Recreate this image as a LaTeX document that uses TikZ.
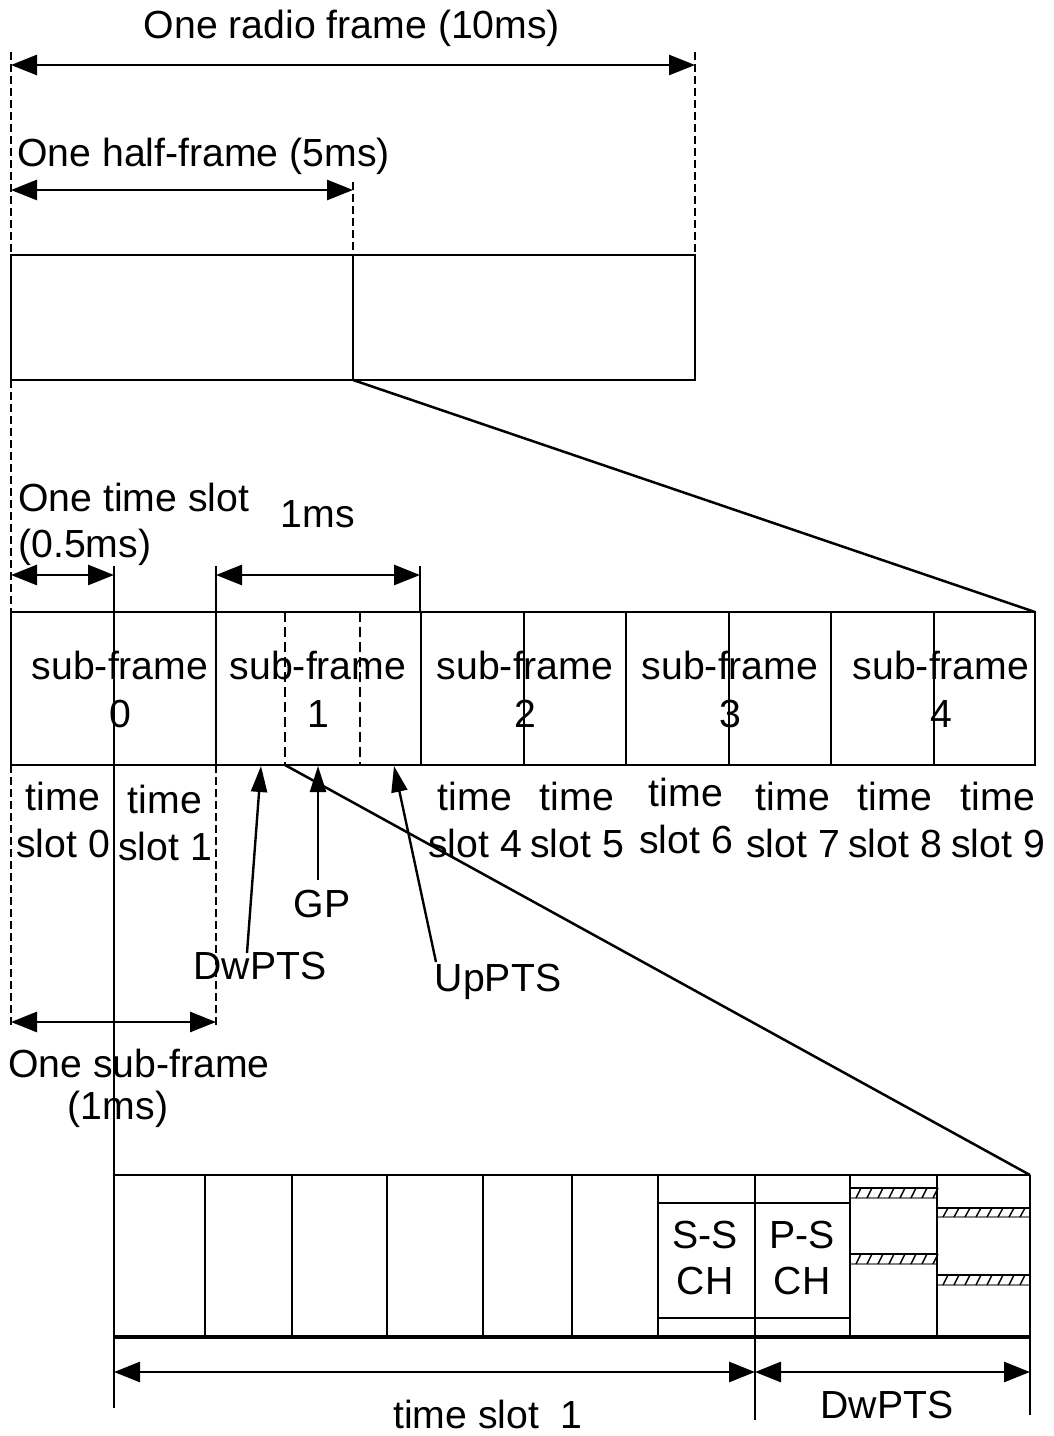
\documentclass[tikz,border=0pt]{standalone}
\usepackage{fontspec}
\setmainfont{Liberation Sans}
\usetikzlibrary{arrows.meta}
\begin{document}
\begin{tikzpicture}[x=0.5pt,y=-0.5pt,
  ln/.style={line width=1.25pt},
  boxln/.style={line width=1.4pt},
  dimarrow/.style={line width=1.4pt,{Triangle[length=13pt,width=10pt]}-{Triangle[length=13pt,width=10pt]}},
  ptr/.style={line width=1.2pt,-{Triangle[length=13pt,width=8pt]}},
  guide/.style={line width=0.7pt,dash pattern=on 4pt off 2pt},
  sfdash/.style={line width=1pt,dash pattern=on 5pt off 2.5pt},
  lbl/.style={font=\fontsize{19.6}{24}\selectfont, inner sep=0pt, anchor=base}]
\useasboundingbox (0,0) rectangle (1054,1436);

% ---- top: radio frame ----
\coordinate (rfL) at (11,65); \coordinate (rfR) at (695,65);
\draw[dimarrow] (rfL) -- (rfR);
\node[lbl] (rf) at (352,38) {One radio frame (10ms)};
\draw[guide] (11,52) -- (11,255);
\draw[guide] (695,52) -- (695,255);
\coordinate (hfL) at (11,190); \coordinate (hfR) at (353,190);
\draw[dimarrow] (hfL) -- (hfR);
\node[lbl,anchor=base west] (hf) at (17,166) {One half-frame (5ms)};
\draw[guide] (353,182) -- (353,255);
\draw[boxln] (11,255) rectangle (695,380);
\draw[ln] (353,255) -- (353,380);
\coordinate (z1a) at (353,380); \coordinate (z1b) at (1035,612);
\draw[ln] (z1a) -- (z1b);
\draw[guide] (11,380) -- (11,612);

% ---- sub-frame row ----
\node[lbl,anchor=base west] (ts1) at (18,511) {One time slot};
\node[lbl,anchor=base west] (ts2) at (18,557) {(0.5ms)};
\node[lbl] (onems) at (318,527) {1ms};
\coordinate (tsL) at (11,575); \coordinate (tsR) at (114,575);
\draw[dimarrow] (tsL) -- (tsR);
\coordinate (msL) at (216,575); \coordinate (msR) at (420,575);
\draw[dimarrow] (msL) -- (msR);
\draw[ln] (216,566) -- (216,612);
\draw[ln] (420,566) -- (420,612);
\draw[ln] (114,566) -- (114,1408);

\draw[boxln] (11,612) rectangle (1035,765);
\foreach \x in {216,421,626,831,524,729,934} \draw[ln] (\x,612) -- (\x,765);
\draw[sfdash] (285,612) -- (285,765);
\draw[sfdash] (360,612) -- (360,765);

\foreach \x/\n/\k in {120/0/a,318/1/b,525/2/c,730/3/d,941/4/e} {
  \node[lbl] (sf\k) at (\x,679) {sub-frame};
  \node[lbl] (sn\k) at (\x,727) {\n};
}

\foreach \x/\ya/\n/\k in {63/810/0/a,165/813/1/b,475/810/4/c,577/810/5/d,686/806/6/e,793/810/7/f,895/810/8/g,998/810/9/h} {
  \node[lbl] (tt\k) at (\x,\ya) {time};
  \node[lbl] (tn\k) at (\x,\ya+47) {slot \n};
}

% ---- DwPTS / GP / UpPTS pointers ----
\node[lbl] (gp) at (322,917) {GP};
\node[lbl] (dw) at (260,979) {DwPTS};
\node[lbl] (up) at (498,991) {UpPTS};
\coordinate (dwT) at (261,766); \coordinate (dwS) at (247,953);
\coordinate (gpT) at (318,766); \coordinate (gpS) at (318,880);
\coordinate (upT) at (394,766); \coordinate (upS) at (436,962);
\draw[ptr] (dwS) -- (dwT);
\draw[ptr] (gpS) -- (gpT);
\draw[ptr] (upS) -- (upT);

\draw[guide] (11,765) -- (11,1028);
\draw[guide] (216,765) -- (216,1028);
\coordinate (osL) at (11,1022); \coordinate (osR) at (216,1022);
\draw[dimarrow] (osL) -- (osR);
\node[lbl] (os1) at (139,1077) {One sub-frame};
\node[lbl] (os2) at (118,1119) {(1ms)};

\coordinate (z2a) at (285,765); \coordinate (z2b) at (1030,1175);
\draw[ln] (z2a) -- (z2b);

% ---- bottom: time slot 1 + DwPTS ----
\draw[boxln] (114,1175) -- (1030,1175);
\draw[line width=2.2pt] (114,1337) -- (1030,1337);
\foreach \x in {205,292,387,483,572,658,755,850,937} \draw[boxln] (\x,1175) -- (\x,1337);
\draw[boxln] (1030,1175) -- (1030,1337);
\draw[ln] (658,1203) -- (850,1203);
\draw[ln] (658,1318) -- (850,1318);
\node[lbl] (ss1) at (705,1248) {S-S};
\node[lbl] (ss2) at (705,1294) {CH};
\node[lbl] (ps1) at (802,1248) {P-S};
\node[lbl] (ps2) at (802,1294) {CH};

\foreach \xa/\xb/\ya/\yb in {851/936/1188/1198, 851/936/1254/1264, 938/1029/1208/1217, 938/1029/1275/1285} {
  \draw[line width=0.7pt] (\xa,\ya) -- (\xb,\ya);
  \draw[line width=0.9pt,gray] (\xa,\yb) -- (\xb,\yb);
  \foreach \k in {0,...,7} \draw[line width=0.7pt] ({\xa+5+\k*11},\yb) -- ({\xa+10+\k*11},\ya);
}

\coordinate (b1L) at (114,1372); \coordinate (b1R) at (755,1372);
\coordinate (b2L) at (755,1372); \coordinate (b2R) at (1030,1372);
\draw[dimarrow] (b1L) -- (b1R);
\draw[dimarrow] (b2L) -- (b2R);
\draw[ln] (755,1337) -- (755,1420);
\draw[ln] (1030,1337) -- (1030,1415);
\node[lbl] (bts) at (488,1428) {time slot\ \ 1};
\node[lbl] (bdw) at (887,1418) {DwPTS};
\end{tikzpicture}
\end{document}
